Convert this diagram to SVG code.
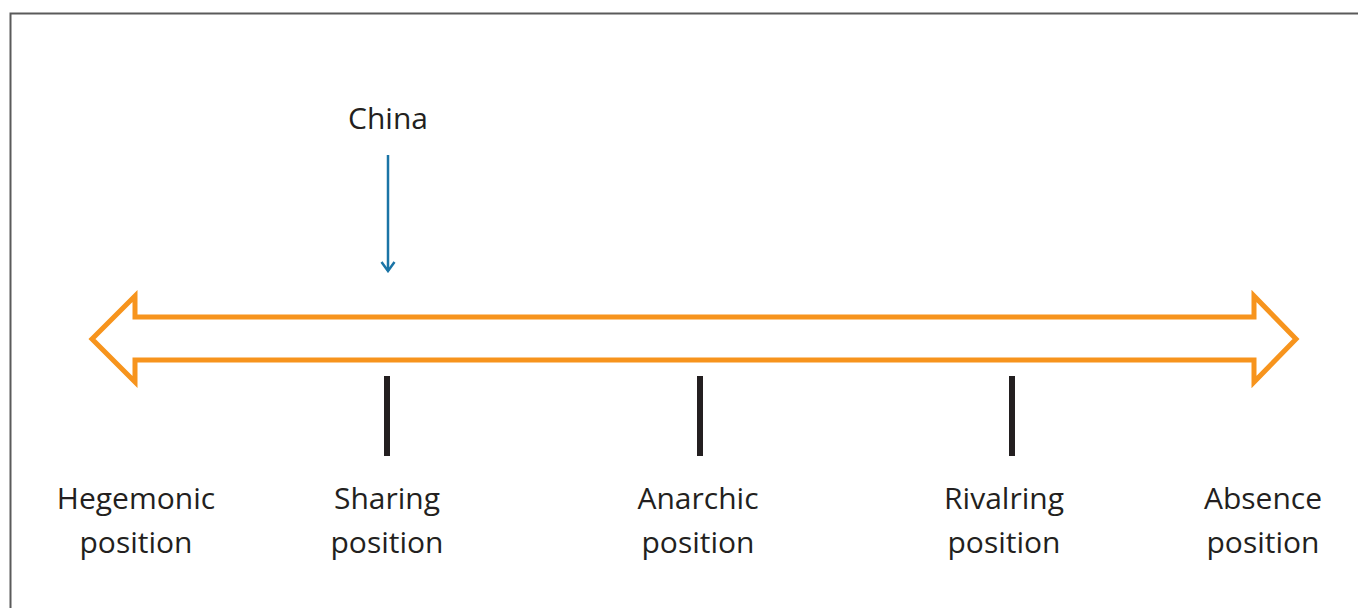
<svg xmlns="http://www.w3.org/2000/svg" width="1358" height="608" viewBox="0 0 1358 608">
<style>
.lbl{font-family:"Open Sans","Liberation Sans",sans-serif;font-size:30px;fill:#231f20;text-anchor:middle}
.tick{stroke:#231f20;stroke-width:6}
</style>
<defs>
<marker id="ah" markerWidth="12" markerHeight="16" refX="10" refY="7" orient="auto" markerUnits="userSpaceOnUse" viewBox="0 0 12 14">
<path d="M1,0.5 L10,7 L1,13.5" fill="none" stroke="#1a74a6" stroke-width="2.5"/>
</marker>
</defs>
<rect width="1358" height="608" fill="#fff"/>
<path d="M10.5,608 V13.5 H1358" fill="none" stroke="#5a5a5a" stroke-width="2"/>
<g id="scale">
<polygon points="92,339 135,296 135,317 1254,317 1254,296 1296,339 1254,382 1254,360 135,360 135,382" fill="none" stroke="#f7941d" stroke-width="5"/>
</g>
<g id="connectors">
<line x1="388" y1="155" x2="388" y2="271" stroke="#1a74a6" stroke-width="2.5" marker-end="url(#ah)"/>
<line class="tick" x1="387" y1="376" x2="387" y2="456"/>
<line class="tick" x1="700" y1="376" x2="700" y2="456"/>
<line class="tick" x1="1012" y1="376" x2="1012" y2="456"/>
</g>
<g id="china"><text class="lbl" x="388" y="129">China</text></g>
<g id="hegemonic"><text class="lbl" x="136" y="509">Hegemonic</text><text class="lbl" x="136" y="553">position</text></g>
<g id="sharing"><text class="lbl" x="387" y="509">Sharing</text><text class="lbl" x="387" y="553">position</text></g>
<g id="anarchic"><text class="lbl" x="698" y="509">Anarchic</text><text class="lbl" x="698" y="553">position</text></g>
<g id="rivalring"><text class="lbl" x="1004" y="509">Rivalring</text><text class="lbl" x="1004" y="553">position</text></g>
<g id="absence"><text class="lbl" x="1263" y="509">Absence</text><text class="lbl" x="1263" y="553">position</text></g>
</svg>
